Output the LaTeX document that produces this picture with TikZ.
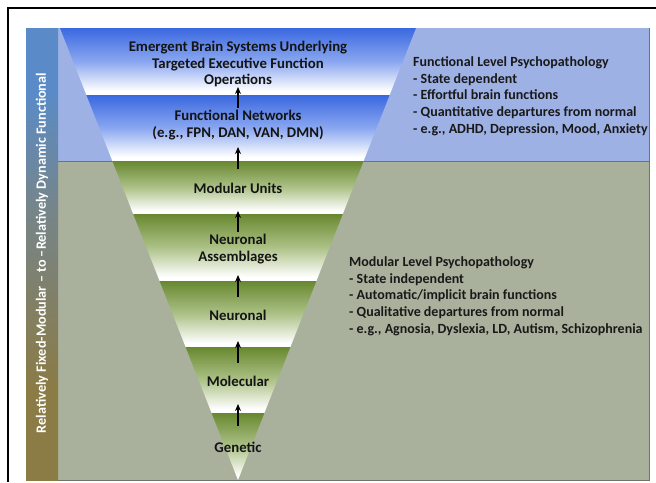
\documentclass[tikz,border=0pt]{standalone}
\usepackage{fontspec}
\setmainfont{Carlito}
\usetikzlibrary{arrows.meta}

\definecolor{barblue}{HTML}{5A8BC8}
\definecolor{barmid}{HTML}{76858A}
\definecolor{barolive}{HTML}{8B7B45}
\definecolor{skyback}{HTML}{9DB1E5}
\definecolor{sageback}{HTML}{A9B19C}
\definecolor{edgeshade}{HTML}{6E7767}
\definecolor{bandblue}{HTML}{3A68E0}
\definecolor{bandbluemid}{HTML}{8AA7F0}
\definecolor{bandgreen}{HTML}{68882F}
\definecolor{bandgreenmid}{HTML}{ADC288}

% vertical fades used for the funnel layers (dark at the top, white at the bottom)
\pgfdeclareverticalshading{bluefade}{100bp}{color(0bp)=(white); color(28bp)=(white);
  color(50bp)=(bandbluemid); color(75bp)=(bandblue); color(100bp)=(bandblue)}
\pgfdeclareverticalshading{greenfade}{100bp}{color(0bp)=(white); color(28bp)=(white);
  color(50bp)=(bandgreenmid); color(75bp)=(bandgreen); color(100bp)=(bandgreen)}
\pgfdeclareverticalshading{barfade}{100bp}{color(0bp)=(barolive); color(25bp)=(barolive);
  color(35bp)=(barolive); color(55bp)=(barmid); color(68bp)=(barblue); color(100bp)=(barblue)}

\tikzset{
  layertext/.style={font=\bfseries\fontsize{14.8}{16.6}\selectfont, text=black!92,
    align=center, inner sep=0pt},
  sidetext/.style={font=\bfseries\fontsize{14}{16.7}\selectfont, text=black!90,
    align=left, inner sep=0pt, anchor=west},
  bartext/.style={font=\bfseries\fontsize{14.2}{16}\selectfont, text=white,
    rotate=90, inner sep=0pt},
  uparrow/.style={-{Stealth[length=7pt,width=6pt]}, line width=1.6pt, black},
  bluelayer/.style={shading=bluefade},
  greenlayer/.style={shading=greenfade},
}

\begin{document}
\begin{tikzpicture}[x=1pt,y=-1pt]
\useasboundingbox (0,0) rectangle (656,482);

% page frame
\draw[line width=1.2pt, black] (8,482) -- (8,8) -- (656,8);

% background panels
\fill[sageback] (58,161) rectangle (649,480);
\fill[skyback] (58,28) rectangle (649,161);
\draw[edgeshade, line width=0.8pt] (58,161.3) -- (649,161.3);
\draw[edgeshade, line width=0.8pt] (649,28) -- (649,480) -- (26,480);

% side bar
\path[shading=barfade] (26,28) rectangle (58,480);
\node[bartext] (axis) at (42,253)
  {Relatively Fixed-Modular -- to --Relatively Dynamic Functional};

% funnel layers
\path[bluelayer]  (60,28) -- (416,28) -- (389.6,95) -- (86.4,95) -- cycle;
\path[bluelayer]  (86.4,95) -- (389.6,95) -- (363.6,161) -- (112.4,161) -- cycle;
\path[greenlayer] (112.4,161) -- (363.6,161) -- (342.8,214) -- (133.2,214) -- cycle;
\path[greenlayer] (133.2,214) -- (342.8,214) -- (316.4,281) -- (159.6,281) -- cycle;
\path[greenlayer] (159.6,281) -- (316.4,281) -- (290.4,347) -- (185.6,347) -- cycle;
\path[greenlayer] (185.6,347) -- (290.4,347) -- (264.4,413) -- (211.6,413) -- cycle;
\path[greenlayer] (211.6,413) -- (264.4,413) -- (238,480) -- cycle;

% layer labels
\node[layertext] (emergent) at (238,64)
  {Emergent Brain Systems Underlying\\Targeted Executive Function\\Operations};
\node[layertext] (networks) at (238,125) {Functional Networks\\(e.g., FPN, DAN, VAN, DMN)};
\node[layertext] (modular) at (238,188) {Modular Units};
\node[layertext] (assembl) at (238,249) {Neuronal\\Assemblages};
\node[layertext] (neuronal) at (238,315) {Neuronal};
\node[layertext] (molecular) at (238,381) {Molecular};
\node[layertext] (genetic) at (238,447) {Genetic};

% arrow end points between layers
\coordinate (a1s) at (238,108); \coordinate (a1e) at (238,87);
\coordinate (a2s) at (238,169); \coordinate (a2e) at (238,147);
\coordinate (a3s) at (238,232); \coordinate (a3e) at (238,211);
\coordinate (a4s) at (238,297); \coordinate (a4e) at (238,275);
\coordinate (a5s) at (238,363); \coordinate (a5e) at (238,341);
\coordinate (a6s) at (238,426); \coordinate (a6e) at (238,404);
\foreach \i in {1,...,6} \draw[uparrow] (a\i s) -- (a\i e);

% side descriptions
\node[sidetext] (functional) at (413,96)
  {Functional Level Psychopathology\\- State dependent\\- Effortful brain functions\\
   - Quantitative departures from normal\\- e.g., ADHD, Depression, Mood, Anxiety};
\node[sidetext] (modularpath) at (349,296)
  {Modular Level Psychopathology\\- State independent\\- Automatic/implicit brain functions\\
   - Qualitative departures from normal\\- e.g., Agnosia, Dyslexia, LD, Autism, Schizophrenia};
\end{tikzpicture}
\end{document}
